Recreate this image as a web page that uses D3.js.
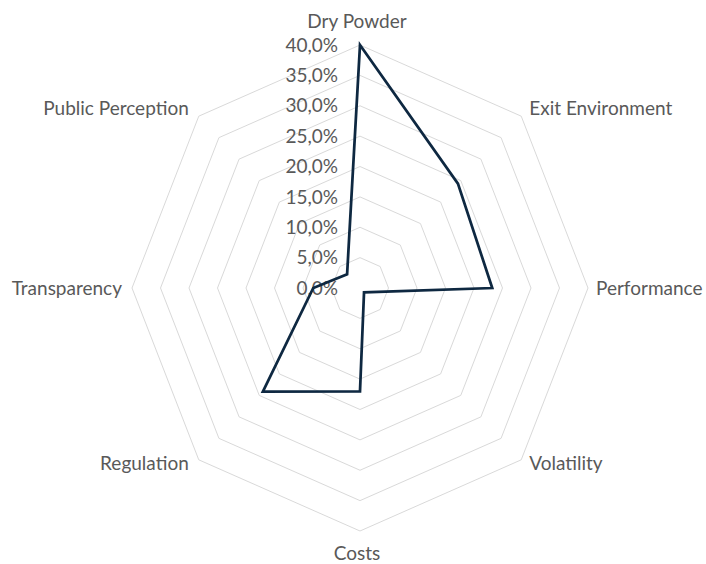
<!DOCTYPE html>
<html>
<head>
<meta charset="utf-8">
<script src="https://cdn.jsdelivr.net/npm/d3@7"></script>
<style>
  body { margin: 0; background: #fff; }
  text { font-family: Lato, "Open Sans", sans-serif; fill: #595959; }
</style>
</head>
<body>
<script>
// axes, clockwise from the top
let categories = ["Dry Powder", "Exit Environment", "Performance", "Volatility",
    "Costs", "Regulation", "Transparency", "Public Perception"];
let values = [0.40, 0.243, 0.232, 0.01, 0.17, 0.241, 0.082, 0.032];
let ticks = [0, 0.05, 0.10, 0.15, 0.20, 0.25, 0.30, 0.35, 0.40];

let width = 706;
let height = 564;
let cx = 360, cy = 288;
let rx = 228, ry = 243;   // the picture is a bit narrower than tall

let svg = d3.select("body")
    .append("svg")
    .attr("width", width)
    .attr("height", height);

let r = d3.scaleLinear().domain([0, 0.4]).range([0, 1]);
let angle = d3.scalePoint().domain(categories).range([0, 2 * Math.PI * 7 / 8]);

let fmt = d3.formatLocale({decimal: ",", thousands: ".", grouping: [3], currency: ["", ""]}).format(".1%");

function px(cat, v) {
    return cx + rx * r(v) * Math.sin(angle(cat));
}
function py(cat, v) {
    return cy - ry * r(v) * Math.cos(angle(cat));
}

// grid rings
let ring = d3.line().curve(d3.curveLinearClosed);
svg.append("g")
    .selectAll("path")
    .data(ticks.slice(1))
    .join("path")
    .attr("d", t => ring(categories.map(c => [px(c, t), py(c, t)])))
    .attr("fill", "none")
    .attr("stroke", "#d9d9d9")
    .attr("stroke-width", 1);

// tick labels on the vertical axis
svg.append("g")
    .selectAll("text")
    .data(ticks)
    .join("text")
    .attr("x", cx - 22)
    .attr("y", t => py(categories[0], t))
    .attr("dy", "0.35em")
    .attr("text-anchor", "end")
    .style("font-size", "19px")
    .text(t => fmt(t));

// category labels
svg.append("g")
    .selectAll("text")
    .data(categories)
    .join("text")
    .attr("x", c => {
        let s = Math.sin(angle(c));
        return px(c, 0.4) + (Math.abs(s) < 0.1 ? -3 : (s > 0 ? 8 : -10));
    })
    .attr("y", c => {
        let co = Math.cos(angle(c));
        if (co > 0.9) return py(c, 0.4) - 24;
        if (co < -0.9) return py(c, 0.4) + 22;
        if (co > 0.1) return py(c, 0.4) - 8;
        if (co < -0.1) return py(c, 0.4) + 4;
        return py(c, 0.4);
    })
    .attr("dy", "0.35em")
    .attr("text-anchor", c => {
        let s = Math.sin(angle(c));
        return Math.abs(s) < 0.1 ? "middle" : (s > 0 ? "start" : "end");
    })
    .style("font-size", "19px")
    .text(c => c);

// the series
let line = d3.line()
    .x(d => px(d.cat, d.v))
    .y(d => py(d.cat, d.v))
    .curve(d3.curveLinearClosed);

svg.append("path")
    .datum(categories.map((c, i) => ({cat: c, v: values[i]})))
    .attr("d", line)
    .attr("fill", "none")
    .attr("stroke", "#0e2841")
    .attr("stroke-width", 2.75)
    .attr("stroke-linejoin", "miter");
</script>
</body>
</html>
